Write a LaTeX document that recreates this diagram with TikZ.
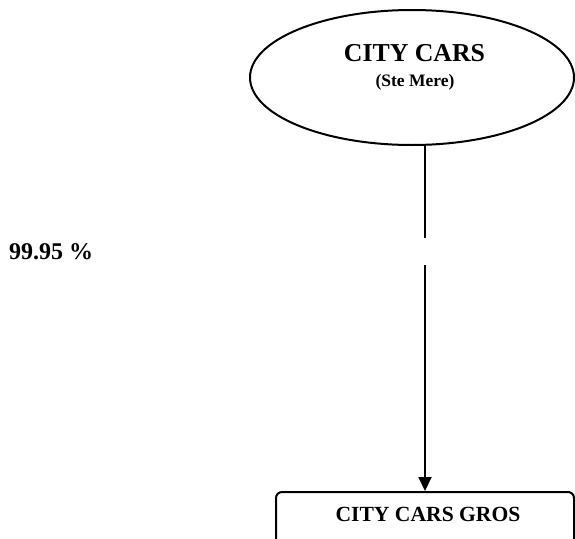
\documentclass[tikz,border=0pt]{standalone}
\usepackage{fontspec}
\setmainfont{Liberation Serif}
\usetikzlibrary{shapes.geometric,arrows.meta}
\tikzset{
  ln/.style={line width=2pt},
  big/.style={font=\bfseries\fontsize{25.8}{30}\selectfont, inner sep=0pt},
  small/.style={font=\bfseries\fontsize{17.5}{20}\selectfont, inner sep=0pt},
  mid/.style={font=\bfseries\fontsize{21.6}{26}\selectfont, inner sep=0pt},
  pct/.style={font=\bfseries\fontsize{24}{28}\selectfont, inner sep=0pt, anchor=west},
}
\begin{document}
\begin{tikzpicture}[x=1pt,y=-1pt]
\useasboundingbox (0,0) rectangle (575,538);
\clip (0,0) rectangle (575,538);
\node[ln, draw, ellipse, minimum width=324pt, minimum height=135pt, inner sep=0pt] (cc) at (412,77.5) {};
\node[big] (cctitle) at (414.5,53) {CITY CARS};
\node[small] (ccsub) at (415,82) {(Ste Mere)};
\node[ln, draw, rounded corners=6pt, minimum width=298pt, minimum height=80pt, inner sep=0pt] (gros) at (425,532) {};
\node[mid] (grostitle) at (428,514) {CITY CARS GROS};
\node[pct] (pct) at (9,252) {99.95 \%};
\coordinate (gaptop) at (425,238);
\coordinate (gapbot) at (425,265);
\draw[ln] (cc.south -| gaptop) -- (gaptop);
\draw[ln, -{Triangle[width=13pt,length=14pt]}] (gapbot) -- (gapbot |- gros.north);
\end{tikzpicture}
\end{document}
